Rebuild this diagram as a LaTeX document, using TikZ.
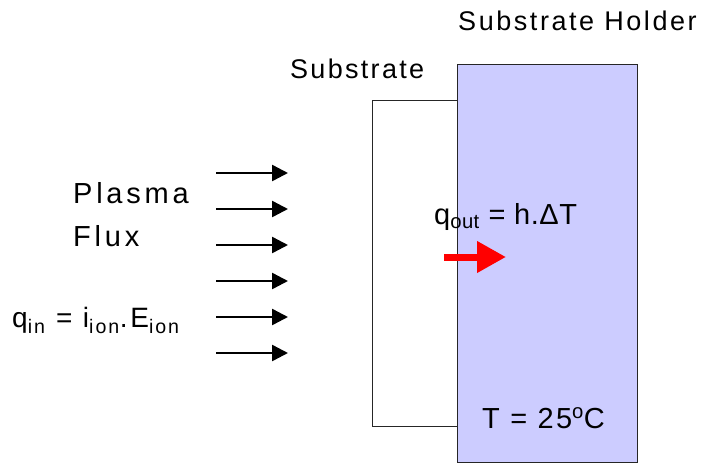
\documentclass[tikz,border=0pt]{standalone}
\usepackage{fontspec}
\setmainfont{Liberation Sans}
\usetikzlibrary{arrows.meta}
\definecolor{holderblue}{HTML}{CCCCFF}
\definecolor{heatred}{HTML}{FF0000}
\newcommand{\lblfont}[2]{\fontsize{#1}{#1}\selectfont\addfontfeature{LetterSpace=#2}}

\begin{document}
\begin{tikzpicture}[x=1pt,y=-1pt,
  plate/.style={draw=black!85,line width=1pt},
  txt/.style={inner sep=0pt,anchor=base west},
  flux/.style={-{Triangle[length=16pt,width=16pt]},line width=2.5pt},
  heat/.style={-{Triangle[length=29pt,width=30pt]},line width=7pt,heatred}]
\useasboundingbox (0,0) rectangle (702,464);
% substrate and holder
\node[plate,fill=white,minimum width=85pt,minimum height=326pt] (sub) at (414.5,263) {};
\node[plate,fill=holderblue,minimum width=180pt,minimum height=398pt] (holder) at (547,263) {};
\node[txt,font=\lblfont{27}{9.5}] (holdertxt) at (458,30) {Substrate Holder};
\node[txt,font=\lblfont{27}{8.5}] (subtxt) at (290,78) {Substrate};
% incoming flux
\node[txt,font=\lblfont{29}{13}] (plasma) at (73,203) {Plasma};
\node[txt,font=\lblfont{29}{13}] (flux) at (73,246) {Flux};
\node[txt,font=\lblfont{28}{10}] (qin) at (12,327.5) {q\textsubscript{in} = i\textsubscript{ion}.E\textsubscript{ion}};
\foreach \i/\y in {1/173,2/209,3/245,4/281,5/317,6/353}{
  \coordinate (f\i s) at (216,\y);
  \coordinate (f\i e) at (288,\y);
  \draw[flux] (f\i s) -- (f\i e);
}
% heat to holder
\coordinate (qs) at (444,257);
\coordinate (qe) at (506,257);
\draw[heat] (qs) -- (qe);
\node[txt,font=\lblfont{29}{2}] (qout) at (434,224) {q\textsubscript{out} = h.ΔT};
\node[txt,font=\lblfont{29}{8}] (temp) at (482,428) {T = 25\textsuperscript{o}C};
\end{tikzpicture}
\end{document}
